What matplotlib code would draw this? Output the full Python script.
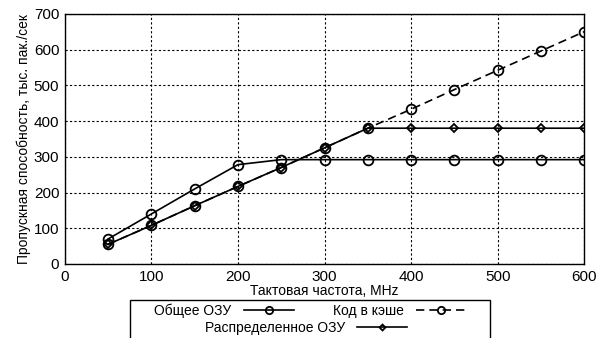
import matplotlib
matplotlib.use("Agg")
import matplotlib.pyplot as plt
from matplotlib.patches import Rectangle

plt.rcParams['font.family'] = ['Liberation Sans', 'DejaVu Sans']

freq = [50, 100, 150, 200, 250, 300, 350, 400, 450, 500, 550, 600]
shared_ram = [70, 140, 210, 278, 292, 292, 292, 292, 292, 292, 292, 292]
cache_code = [55, 108, 163, 217, 270, 325, 380, 433, 488, 542, 596, 650]
distributed_ram = [55, 108, 163, 217, 270, 325, 380, 380, 380, 380, 380, 380]

labels = ["Общее ОЗУ", "Код в кэше", "Распределенное ОЗУ"]
xticks = [0, 100, 200, 300, 400, 500, 600]
yticks = [0, 100, 200, 300, 400, 500, 600, 700]

fig = plt.figure(figsize=(6.06, 3.38), dpi=100)
ax = fig.add_axes([0.107, 0.219, 0.857, 0.740])

l1, = ax.plot(freq, shared_ram, color='black', lw=1.2, marker='o', ms=7,
              mfc='none', mec='black', mew=1.3)
l2, = ax.plot(freq, cache_code, color='black', lw=1.2, ls=(0, (5, 3)), marker='o', ms=7,
              mfc='none', mec='black', mew=1.3)
l3, = ax.plot(freq, distributed_ram, color='black', lw=1.2, marker='D', ms=4,
              mfc='none', mec='black', mew=1.3)

ax.set_xlim(0, 600)
ax.set_ylim(0, 700)
ax.set_xticks(xticks)
ax.set_yticks(yticks)
ax.grid(True, color='black', ls=(0, (2, 2)), lw=0.8)
ax.tick_params(direction='in', length=0, labelsize=11, pad=4)
for s in ax.spines.values():
    s.set_linewidth(1.0)
ax.set_xlabel("Тактовая частота, MHz", fontsize=10, labelpad=0)
ax.set_ylabel("Пропускная способность, тыс. пак./сек", fontsize=10, labelpad=2)

# legend frame
fig.patches.append(Rectangle((0.2145, -0.05), 0.594, 0.1624, transform=fig.transFigure,
                             fill=False, edgecolor='black', lw=1.0, figure=fig))

leg1 = fig.legend([l1, l2], [labels[0], labels[1]], ncol=2,
                  loc='center', bbox_to_anchor=(0.512, 0.080),
                  frameon=False, fontsize=10, markerfirst=False, markerscale=0.75,
                  handlelength=3.6, columnspacing=2.8, handletextpad=0.9,
                  borderpad=0)
leg2 = fig.legend([l3], [labels[2]], ncol=1,
                  loc='center', bbox_to_anchor=(0.505, 0.030),
                  frameon=False, fontsize=10, markerfirst=False, markerscale=0.75,
                  handlelength=3.6, handletextpad=0.9, borderpad=0)

fig.savefig("out.png", dpi=100)
